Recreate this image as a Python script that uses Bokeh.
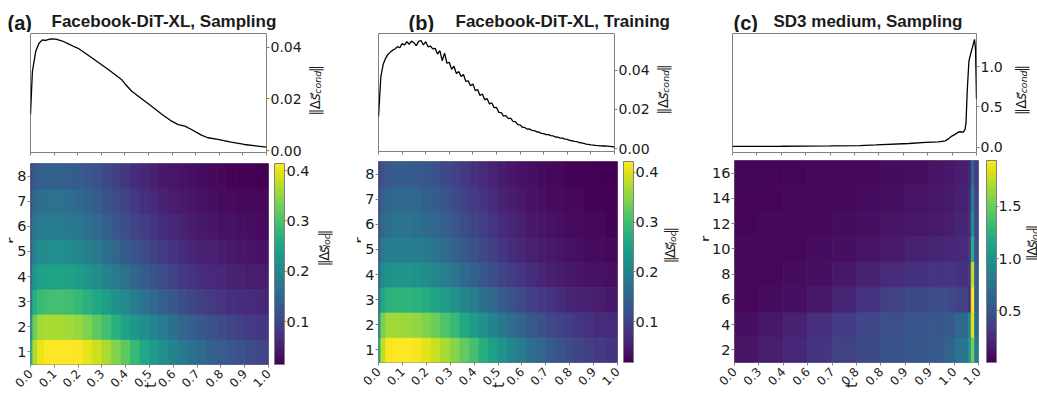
from math import pi
from bokeh.plotting import figure
from bokeh.layouts import row, column
from bokeh.models import (Range1d, FixedTicker, NumeralTickFormatter, ColorBar,
                          LinearColorMapper, ColumnDataSource)
from bokeh.core.properties import value
from bokeh.palettes import Viridis256
from bokeh.embed import file_html
from bokeh.resources import INLINE

# ---------------------------------------------------------------- data
T_TICKS = [0.0, 0.1, 0.2, 0.3, 0.4, 0.5, 0.6, 0.7, 0.8, 0.9, 1.0]
T_LABELS_AB = ["0.0", "0.1", "0.2", "0.3", "0.4", "0.5", "0.6", "0.7", "0.8", "0.9", "1.0"]
T_LABELS_C = ["0.0", "0.3", "0.4", "0.6", "0.7", "0.8", "0.8", "0.9", "0.9", "1.0", "1.0"]

TITLES = ["Facebook-DiT-XL, Sampling", "Facebook-DiT-XL, Training", "SD3 medium, Sampling"]
TAGS = ["(a)", "(b)", "(c)"]

# (a) ||Δs_cond|| vs t
A_T = [0.0, 0.008, 0.022, 0.036, 0.050, 0.064, 0.085, 0.107, 0.135, 0.163, 0.190, 0.205,
       0.261, 0.331, 0.387, 0.401, 0.429, 0.471, 0.513, 0.555, 0.598, 0.626, 0.654, 0.682,
       0.724, 0.752, 0.794, 0.850, 0.906, 0.962, 1.0]
A_COND = [0.0140, 0.0306, 0.0383, 0.0415, 0.0428, 0.0426, 0.0432, 0.0431, 0.0424, 0.0412,
          0.0400, 0.0394, 0.0358, 0.0313, 0.0274, 0.0258, 0.0230, 0.0201, 0.0172, 0.0142,
          0.0114, 0.0101, 0.0095, 0.0082, 0.0060, 0.0050, 0.0044, 0.0033, 0.0024, 0.0018,
          0.0014]

# (b) ||Δs_cond|| vs t (noisy)
B_T = [0.00, 0.01, 0.02, 0.03, 0.04, 0.05, 0.06, 0.07, 0.08, 0.09,
       0.10, 0.11, 0.12, 0.13, 0.14, 0.15, 0.16, 0.17, 0.18, 0.19,
       0.20, 0.21, 0.22, 0.23, 0.24, 0.25, 0.26, 0.27, 0.28, 0.29,
       0.30, 0.31, 0.32, 0.33, 0.34, 0.35, 0.36, 0.37, 0.38, 0.39,
       0.40, 0.41, 0.42, 0.43, 0.44, 0.45, 0.46, 0.47, 0.48, 0.49,
       0.50, 0.51, 0.52, 0.53, 0.54, 0.55, 0.56, 0.57, 0.58, 0.59,
       0.60, 0.61, 0.62, 0.63, 0.64, 0.65, 0.66, 0.67, 0.68, 0.69,
       0.70, 0.71, 0.72, 0.73, 0.74, 0.75, 0.76, 0.77, 0.78, 0.79,
       0.80, 0.81, 0.82, 0.83, 0.84, 0.85, 0.86, 0.87, 0.88, 0.89,
       0.90, 0.91, 0.92, 0.93, 0.94, 0.95, 0.96, 0.97, 0.98, 0.99, 1.00]
B_COND = [0.0163, 0.0368, 0.0431, 0.0461, 0.0481, 0.0493, 0.0503, 0.0509, 0.0521, 0.0515,
          0.0536, 0.0529, 0.0546, 0.0533, 0.0549, 0.0541, 0.0526, 0.0548, 0.0552, 0.0530,
          0.0546, 0.0520, 0.0524, 0.0509, 0.0512, 0.0483, 0.0501, 0.0449, 0.0488, 0.0436,
          0.0440, 0.0405, 0.0421, 0.0383, 0.0394, 0.0368, 0.0379, 0.0343, 0.0346, 0.0321,
          0.0330, 0.0296, 0.0302, 0.0271, 0.0279, 0.0249, 0.0256, 0.0228, 0.0233, 0.0209,
          0.0210, 0.0185, 0.0184, 0.0166, 0.0168, 0.0153, 0.0155, 0.0139, 0.0138, 0.0122,
          0.0121, 0.0109, 0.0108, 0.0099, 0.0100, 0.0093, 0.0092, 0.0086, 0.0084, 0.0078,
          0.0076, 0.0071, 0.0071, 0.0066, 0.0065, 0.0059, 0.0058, 0.0053, 0.0053, 0.0048,
          0.0047, 0.0042, 0.0040, 0.0037, 0.0035, 0.0031, 0.0029, 0.0026, 0.0023, 0.0021,
          0.0019, 0.0018, 0.0016, 0.0015, 0.0014, 0.0013, 0.0013, 0.0012, 0.0011, 0.0010,
          0.0008]

# (c) ||Δs_cond|| vs sampling-step position
C_T = [0.0, 0.2, 0.4, 0.521, 0.588, 0.723, 0.791, 0.845, 0.872, 0.883, 0.899, 0.912,
       0.926, 0.933, 0.946, 0.953, 0.957, 0.962, 0.969, 0.977, 0.987, 0.992, 0.996, 1.0]
C_COND = [0.008, 0.010, 0.014, 0.018, 0.026, 0.044, 0.058, 0.065, 0.077, 0.098, 0.136, 0.157,
          0.185, 0.190, 0.185, 0.220, 0.300, 0.700, 1.070, 1.170, 1.280, 1.340, 1.220, 0.600]

# heatmaps ||Δs_loc||(r, t)
R_AB = [1, 2, 3, 4, 5, 6, 7, 8]
T_EDGES_AB = [0.0, 0.01, 0.03, 0.06, 0.10, 0.14, 0.18, 0.22, 0.26, 0.30, 0.34, 0.38, 0.42,
              0.46, 0.50, 0.54, 0.58, 0.62, 0.66, 0.70, 0.74, 0.78, 0.82, 0.86, 0.90, 0.95, 1.0]
A_LOC = [
    [.263, .367, .403, .415, .415, .415, .411, .399, .383, .363, .339, .315, .283, .255, .231, .211, .195, .179, .163, .151, .139, .131, .123, .115, .107, .099],
    [.215, .327, .359, .363, .363, .359, .351, .335, .315, .295, .271, .247, .227, .211, .195, .179, .163, .147, .135, .123, .115, .107, .099, .091, .083, .079],
    [.175, .263, .287, .295, .295, .291, .283, .271, .255, .239, .219, .203, .183, .167, .151, .135, .123, .111, .099, .091, .083, .075, .071, .067, .063, .059],
    [.155, .223, .243, .247, .247, .243, .235, .223, .211, .195, .179, .163, .147, .131, .119, .107, .095, .083, .075, .067, .063, .059, .055, .051, .047, .047],
    [.135, .191, .207, .211, .211, .207, .199, .191, .179, .163, .147, .131, .119, .107, .095, .083, .075, .067, .059, .055, .051, .047, .043, .039, .039, .035],
    [.123, .167, .179, .183, .183, .179, .171, .163, .151, .139, .123, .111, .099, .087, .075, .067, .059, .055, .047, .043, .039, .035, .035, .031, .031, .027],
    [.111, .147, .159, .163, .163, .159, .151, .143, .131, .119, .107, .095, .083, .071, .063, .055, .047, .043, .039, .035, .031, .027, .027, .023, .023, .023],
    [.095, .127, .135, .139, .139, .135, .131, .123, .115, .103, .091, .079, .067, .059, .051, .043, .039, .035, .031, .027, .023, .023, .019, .019, .019, .015],
]
B_LOC = [
    [.260, .382, .418, .422, .422, .418, .406, .390, .369, .349, .325, .301, .273, .248, .224, .204, .184, .167, .151, .135, .123, .111, .103, .095, .087, .079],
    [.220, .341, .365, .365, .361, .357, .345, .329, .309, .289, .264, .240, .220, .200, .180, .163, .147, .131, .119, .107, .099, .091, .083, .075, .071, .066],
    [.180, .260, .277, .281, .281, .277, .268, .256, .240, .224, .204, .188, .167, .151, .135, .119, .107, .095, .087, .079, .071, .062, .058, .054, .050, .046],
    [.151, .212, .224, .228, .228, .224, .216, .204, .192, .176, .159, .143, .127, .115, .103, .091, .079, .071, .062, .054, .050, .046, .042, .038, .038, .034],
    [.131, .180, .188, .192, .192, .188, .184, .172, .159, .147, .131, .119, .107, .095, .083, .071, .062, .054, .050, .046, .042, .038, .034, .030, .030, .026],
    [.119, .155, .167, .172, .172, .167, .159, .151, .139, .127, .115, .103, .091, .079, .071, .062, .054, .046, .042, .038, .034, .030, .030, .026, .026, .022],
    [.107, .139, .151, .155, .155, .151, .143, .135, .123, .111, .099, .087, .079, .066, .058, .050, .046, .038, .034, .030, .030, .026, .026, .022, .022, .022],
    [.091, .119, .131, .135, .135, .131, .127, .119, .107, .099, .087, .075, .066, .058, .050, .042, .038, .034, .030, .026, .026, .022, .022, .022, .018, .018],
]
R_C = [2, 4, 6, 8, 10, 12, 14, 16]
T_EDGES_C = [0.0, 0.1, 0.2, 0.3, 0.4, 0.5, 0.6, 0.7, 0.8, 0.866, 0.906, 0.958, 0.970, 0.984, 1.0]
C_LOC = [
    [.107, .165, .223, .300, .378, .436, .494, .532, .571, .629, .745, .978, 1.519, .823],
    [.087, .126, .184, .262, .339, .416, .474, .513, .532, .552, .649, .881, 1.848, .687],
    [.049, .068, .087, .126, .204, .300, .378, .436, .455, .436, .397, .242, 1.940, .629],
    [.049, .049, .068, .087, .126, .184, .242, .281, .300, .300, .281, .300, 1.752, .590],
    [.049, .049, .049, .068, .087, .107, .145, .184, .204, .223, .242, .281, 1.210, .494],
    [.029, .049, .049, .049, .068, .087, .107, .126, .145, .165, .204, .242, .939, .436],
    [.029, .029, .049, .049, .049, .068, .087, .107, .126, .145, .184, .223, .784, .397],
    [.029, .029, .029, .049, .049, .049, .068, .087, .107, .126, .165, .204, .629, .358],
]

# ---------------------------------------------------------------- style helpers
FRAME = "#808080"
FONT = "DejaVu Sans"
TFONT = "Liberation Sans"
TXT = "#1a1a1a"


def base_fig(w, h, l, r, t, b, xr, yr, yloc="left"):
    p = figure(width=w, height=h, x_range=xr, y_range=yr, y_axis_location=yloc,
               output_backend="svg", toolbar_location=None,
               min_border_left=l, min_border_right=r, min_border_top=t, min_border_bottom=b)
    p.grid.visible = False
    p.outline_line_color = FRAME
    p.outline_line_width = 1
    for ax in p.axis:
        ax.axis_line_color = None
        ax.major_tick_line_color = FRAME
        ax.major_tick_in = 0
        ax.major_tick_out = 3
        ax.minor_tick_line_color = None
        ax.major_label_text_font = FONT
        ax.major_label_text_font_size = "14.5px"
        ax.major_label_text_color = TXT
        ax.major_label_standoff = 1
    return p


def text_fig(x0, y0, x1, y1):
    """blank canvas covering image box (x0..x1, y0..y1); data coords: (x_img, -y_img)"""
    p = figure(width=x1 - x0, height=y1 - y0, x_range=Range1d(x0, x1), y_range=Range1d(-y1, -y0),
               x_axis_type=None, y_axis_type=None, output_backend="svg", toolbar_location=None,
               min_border_left=0, min_border_right=0, min_border_top=0, min_border_bottom=0)
    p.grid.visible = False
    p.outline_line_color = None
    return p


def put(p, x, y, text, size, style="normal", font=FONT, angle=0.0, align="left"):
    p.text(x=[x], y=[-y], text=[text], angle=angle, text_align=align,
           text_baseline="alphabetic", text_font=value(font), text_font_size=value(size),
           text_font_style=value(style), text_color=TXT)


SUB_EM = {"cond": 2.431, "loc": 1.44}


def norm_label(p, xb, yc, sub, F=13.5):
    """rotated ‖Δs⃗_sub‖ reading bottom-to-top, centred on image y = yc, baseline x = xb"""
    S = 0.7 * F
    pieces = [("\u2016", "normal", F, 0.0, 0.5 * F),
              ("\u0394", "normal", F, 0.0, 0.684 * F),
              ("s\u20d7", "italic", F, 0.0, 0.521 * F),
              (sub, "italic", S, 0.25 * F, SUB_EM[sub] * S),
              ("\u2016", "normal", F, 0.0, 0.5 * F)]
    total = sum(pc[4] for pc in pieces)
    y = yc + total / 2.0
    for txt, st, fs, dx, wd in pieces:
        put(p, xb + dx, y, txt, f"{fs}px", style=st, angle=pi / 2)
        y -= wd


def top_panel(w, h, l, r, t, b, tx, ty, ylo, yhi, yticks, yfmt):
    p = base_fig(w, h, l, r, t, b, Range1d(0, 1), Range1d(ylo, yhi), yloc="right")
    p.xaxis.ticker = FixedTicker(ticks=[], minor_ticks=T_TICKS)
    p.xaxis.minor_tick_line_color = FRAME
    p.xaxis.minor_tick_in = 0
    p.xaxis.minor_tick_out = 3
    p.yaxis.ticker = FixedTicker(ticks=yticks)
    p.yaxis.formatter = NumeralTickFormatter(format=yfmt)
    p.yaxis.major_label_text_font_size = "14px"
    p.line(tx, ty, line_color="black", line_width=1.3)
    return p


def heat_panel(w, h, l, r, t, b, edges, rows, vals, ylo, yhi, yticks, lo, hi, cticks,
               xlabels, t_loc):
    p = base_fig(w, h, l, r, t, b, Range1d(0, 1), Range1d(ylo, yhi))
    p.xaxis.ticker = FixedTicker(ticks=T_TICKS)
    p.xaxis.major_label_overrides = dict(zip(T_TICKS, xlabels))
    p.xaxis.major_label_orientation = pi / 4
    p.xaxis.major_label_standoff = 4
    p.xaxis.major_label_text_font_size = "12px"
    p.yaxis.ticker = FixedTicker(ticks=yticks)
    mapper = LinearColorMapper(palette=Viridis256, low=lo, high=hi)
    half = (rows[1] - rows[0]) / 2.0
    L, R, B, T, V = [], [], [], [], []
    for rr, rv in zip(rows, vals):
        for j, v in enumerate(rv):
            L.append(edges[j]); R.append(edges[j + 1])
            B.append(rr - half); T.append(rr + half); V.append(v)
    src = ColumnDataSource(dict(left=L, right=R, bottom=B, top=T, v=V))
    cmap = {"field": "v", "transform": mapper}
    p.quad(left="left", right="right", bottom="bottom", top="top", source=src,
           fill_color=cmap, line_color=cmap, line_width=0.8)
    fw = w - l - r
    fh = h - t - b
    cb = ColorBar(color_mapper=mapper, location=(fw + 6, 0), width=10, height=fh,
                  padding=0, margin=0, ticker=FixedTicker(ticks=cticks),
                  formatter=NumeralTickFormatter(format="0.0"),
                  major_tick_in=0, major_tick_out=2, major_tick_line_color=FRAME,
                  minor_tick_line_color=None, bar_line_color=FRAME, label_standoff=0,
                  major_label_text_font=FONT, major_label_text_font_size="14.5px",
                  major_label_text_color=TXT, background_fill_alpha=0, border_line_color=None)
    p.add_layout(cb)
    # x-axis title "t": an empty colour bar used only to carry its (unclipped) title
    tl = ColorBar(color_mapper=mapper, location=t_loc, width=1, height=1, padding=0, margin=0,
                  scale_alpha=0, bar_line_color=None, ticker=FixedTicker(ticks=[]),
                  major_tick_line_color=None, minor_tick_line_color=None,
                  background_fill_alpha=0, border_line_color=None,
                  title="t", title_standoff=0, title_text_font=FONT,
                  title_text_font_style="normal", title_text_font_size="15px",
                  title_text_color=TXT)
    p.add_layout(tl)
    return p


def titles(x0, x1, tag_x, title_x, i):
    p = text_fig(x0, 0, x1, 32)
    put(p, tag_x, 22, TAGS[i], "20px", style="bold", font=TFONT)
    put(p, title_x, 21, TITLES[i], "17px", style="bold", font=TFONT)
    return p


def r_fig(x0, x1, xb, yc):
    p = text_fig(x0, 158, x1, 406)
    put(p, xb, yc + 3.1, "r", "15px", angle=pi / 2, align="left")
    return p


# ---------------------------------------------------------------- panel (a)  x 0..345
tit_a = titles(0, 345, 7, 51, 0)
top_a = top_panel(304, 126, 30, 36, 1, 6, A_T, A_COND, -0.0007, 0.0453, [0.0, 0.02, 0.04], "0.00")
cond_a = text_fig(304, 32, 345, 158)
norm_label(cond_a, 314, 92.5, "cond")
ra = r_fig(0, 13, 12.7, 254)
heat_a = heat_panel(300, 248, 17, 45, 5, 42, T_EDGES_AB, R_AB, A_LOC, 0.5, 8.5, R_AB,
                    0.015, 0.414, [0.1, 0.2, 0.3, 0.4], T_LABELS_AB, (109, -23.5))
loc_a = text_fig(313, 158, 345, 406)
norm_label(loc_a, 323, 263, "loc")

# ---------------------------------------------------------------- panel (b)  x 345..685
tit_b = titles(345, 685, 408, 455, 1)
top_b = top_panel(307, 126, 33, 35, 1, 7, B_T, B_COND, -0.0015, 0.0588, [0.0, 0.02, 0.04], "0.00")
cond_b = text_fig(652, 32, 685, 158)
norm_label(cond_b, 662, 92, "cond")
rb = r_fig(345, 361, 360.7, 256)
heat_b = heat_panel(300, 248, 17, 44, 3, 44, T_EDGES_AB, R_AB, B_LOC, 0.5, 8.5, R_AB,
                    0.018, 0.422, [0.1, 0.2, 0.3, 0.4], T_LABELS_AB, (109.5, -25.5))
loc_b = text_fig(661, 158, 685, 406)
norm_label(loc_b, 669, 262, "loc")

# ---------------------------------------------------------------- panel (c)  x 685..1037
tit_c = titles(685, 1037, 733, 773, 2)
top_c = top_panel(320, 126, 47, 27, 1, 6, C_T, C_COND, -0.068, 1.412, [0.0, 0.5, 1.0], "0.0")
cond_c = text_fig(1005, 32, 1037, 158)
norm_label(cond_c, 1020, 92, "cond")
rc = r_fig(685, 709, 706, 255)
heat_c = heat_panel(312, 248, 23, 43, 2, 44, T_EDGES_C, R_C, C_LOC, 1, 17, R_C,
                    0.005, 1.94, [0.5, 1.0, 1.5], T_LABELS_C, (106, -25.5))
loc_c = text_fig(1021, 158, 1037, 406)
norm_label(loc_c, 1031, 260, "loc")

layout = row(
    column(tit_a, row(top_a, cond_a), row(ra, heat_a, loc_a)),
    column(tit_b, row(top_b, cond_b), row(rb, heat_b, loc_b)),
    column(tit_c, row(top_c, cond_c), row(rc, heat_c, loc_c)),
)
open("out.html", "w").write(file_html(layout, INLINE))
